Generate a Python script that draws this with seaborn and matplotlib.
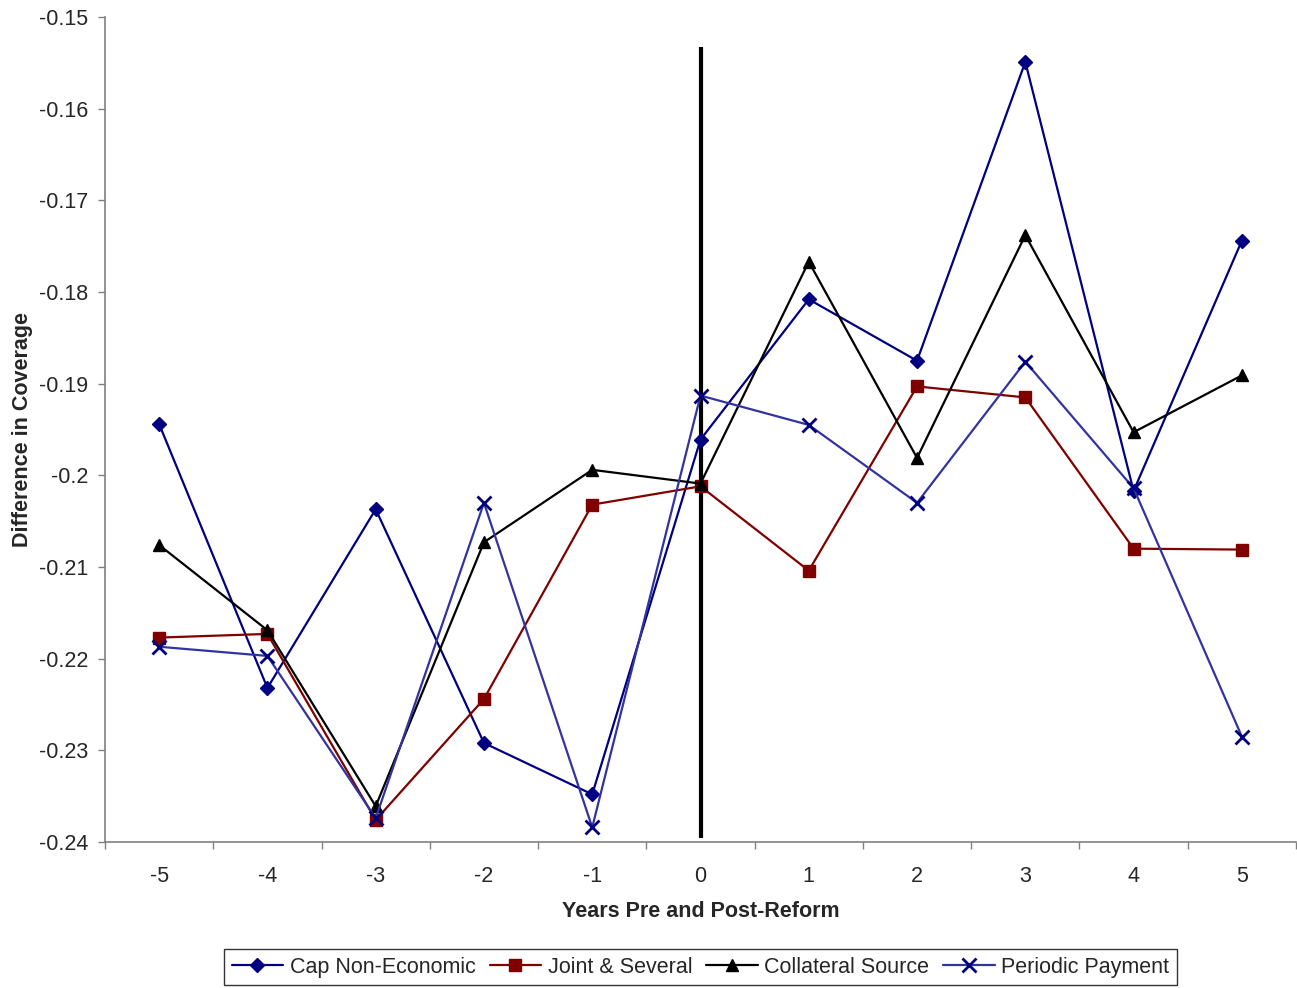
import pandas as pd
import matplotlib.pyplot as plt
import seaborn as sns

years = [-5, -4, -3, -2, -1, 0, 1, 2, 3, 4, 5]
cap_non_economic = [-0.1944, -0.2232, -0.2037, -0.2292, -0.2348, -0.1961, -0.1808, -0.1875, -0.1549, -0.2017, -0.1744]
joint_several = [-0.2177, -0.2173, -0.2376, -0.2244, -0.2032, -0.2012, -0.2104, -0.1903, -0.1915, -0.2080, -0.2081]
collateral_source = [-0.2076, -0.2169, -0.2361, -0.2073, -0.1994, -0.2009, -0.1767, -0.1981, -0.1738, -0.1953, -0.1891]
periodic_payment = [-0.2187, -0.2197, -0.2374, -0.2030, -0.2384, -0.1913, -0.1945, -0.2030, -0.1876, -0.2014, -0.2285]

reform_year = 0
reform_line = (-0.2396, -0.1533)
y_ticks = [-0.24, -0.23, -0.22, -0.21, -0.2, -0.19, -0.18, -0.17, -0.16, -0.15]
y_labels = ['-0.24', '-0.23', '-0.22', '-0.21', '-0.2', '-0.19', '-0.18', '-0.17', '-0.16', '-0.15']

series = {
    'Cap Non-Economic': cap_non_economic,
    'Joint & Several': joint_several,
    'Collateral Source': collateral_source,
    'Periodic Payment': periodic_payment,
}
df = pd.concat([pd.DataFrame({'year': years, 'value': v, 'reform': k}) for k, v in series.items()])

sns.set_style('white')
plt.rcParams['font.family'] = ['Liberation Sans', 'DejaVu Sans']

fig = plt.figure(figsize=(12.97, 9.88), dpi=100)
ax = fig.add_axes([105 / 1297, 1 - 842 / 988, 1191 / 1297, 825 / 988])

styles = {
    'Cap Non-Economic': dict(color='#000080', marker='D', ms=7, mfc='#000080', mec='#000080', mew=1),
    'Joint & Several': dict(color='#800000', marker='s', ms=9, mfc='#800000', mec='#800000', mew=1),
    'Collateral Source': dict(color='#000000', marker='^', ms=9, mfc='#000000', mec='#000000', mew=1),
    'Periodic Payment': dict(color='#3333A0', marker='x', ms=10, mfc='#000080', mec='#000080', mew=2),
}
for name in series:
    st = styles[name]
    sns.lineplot(data=df[df.reform == name], x='year', y='value', ax=ax, label=name,
                 color=st['color'], marker=st['marker'], markersize=st['ms'],
                 markerfacecolor=st['mfc'], markeredgecolor=st['mec'], markeredgewidth=st['mew'],
                 linewidth=1.6, estimator=None, errorbar=None)

ax.vlines(reform_year, reform_line[0], reform_line[1], color='black', linewidth=3, zorder=1)

ax.set_xlim(years[0] - 0.5, years[-1] + 0.5)
ax.set_ylim(y_ticks[0], y_ticks[-1])
ax.set_xticks(years)
ax.set_xticklabels([str(y) for y in years], fontsize=15.5)
ax.set_xticks([y - 0.5 for y in years] + [years[-1] + 0.5], minor=True)
ax.set_yticks(y_ticks)
ax.set_yticklabels(y_labels, fontsize=15.5)
ax.tick_params(axis='x', which='major', length=0, pad=17)
ax.tick_params(axis='x', which='minor', length=5, width=1, color='#808080', direction='out', bottom=True)
ax.tick_params(axis='y', which='major', length=5, width=1, color='#808080', direction='out', left=True, pad=7)

for side in ['top', 'right']:
    ax.spines[side].set_visible(False)
for side in ['left', 'bottom']:
    ax.spines[side].set_color('#808080')
    ax.spines[side].set_linewidth(1.2)

ax.set_xlabel('Years Pre and Post-Reform', fontsize=15.5, fontweight='bold', labelpad=10)
ax.set_ylabel('Difference in Coverage', fontsize=15.5, fontweight='bold', labelpad=4)

leg = ax.legend(loc='center', bbox_to_anchor=(0.5, -0.152), ncol=4, frameon=True, fancybox=False,
                fontsize=15.5, handlelength=2.4, columnspacing=0.65, handletextpad=0.3, borderpad=0.35)
leg.get_frame().set_edgecolor('black')
leg.get_frame().set_linewidth(1)

fig.savefig('out.png', dpi=100)
